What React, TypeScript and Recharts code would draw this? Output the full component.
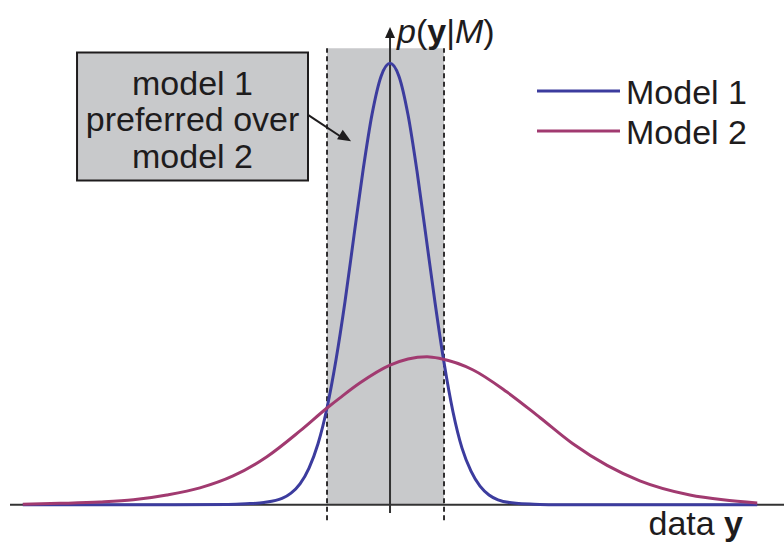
import React from 'react';
import { LineChart, Line, XAxis, YAxis, ReferenceArea, ReferenceLine, ReferenceDot, Legend } from 'recharts';

// ---- data ----
const seriesNames = ['Model 1', 'Model 2'];
const seriesColors = ['#3c3c9e', '#a13a70'];

const model1X = [-10.2, -6, -4.5, -4, -3.5, -3, -2.75, -2.5, -2.25, -2, -1.75, -1.5, -1.25, -1, -0.75, -0.5, -0.25, 0, 0.25, 0.5, 0.75, 1, 1.25, 1.5, 1.75, 2, 2.25, 2.5, 2.75, 3, 3.5, 4, 4.5, 6, 10.2];
const model1Y = [0, 0, 0.0005, 0.002, 0.005, 0.014, 0.026, 0.047, 0.083, 0.138, 0.219, 0.328, 0.46, 0.61, 0.757, 0.884, 0.97, 1, 0.97, 0.883, 0.755, 0.607, 0.458, 0.322, 0.21, 0.128, 0.076, 0.042, 0.022, 0.011, 0.003, 0.001, 0, 0, 0];

const model2X = [-10.2, -9.17, -8.06, -7.13, -6.2, -5.28, -4.36, -3.43, -2.5, -1.75, -1.39, -0.83, 0, 0.5, 1.03, 1.39, 2.31, 3.25, 4.17, 5.08, 6.03, 6.94, 8.33, 9.25, 10.2];
const model2Y = [0.001, 0.003, 0.006, 0.011, 0.022, 0.038, 0.065, 0.108, 0.167, 0.219, 0.242, 0.276, 0.316, 0.33, 0.335, 0.331, 0.305, 0.255, 0.197, 0.138, 0.089, 0.054, 0.022, 0.011, 0.004];

// preferred region (where model 1 lies above model 2)
const bandX = [-1.75, 1.5];
const bandTop = 1.034;

const boxLines = ['model 1', 'preferred over', 'model 2'];
const xAxisLabel = 'data ';
const xAxisLabelBold = 'y';

const model1Data = model1X.map((x, i) => ({ x, y: model1Y[i] }));
const model2Data = model2X.map((x, i) => ({ x, y: model2Y[i] }));

const FONT = '"Liberation Sans", Arial, Helvetica, sans-serif';
const INK = '#1e1c1d';
const AXIS = '#333333';

const upArrow = (p: any) => (
  <polygon points={`${p.cx},${p.cy} ${p.cx - 5},${p.cy + 11} ${p.cx + 5},${p.cy + 11}`} fill={INK} />
);

const calloutHead = (p: any) => {
  const a = Math.atan2(26, 43);
  const L = 13, W = 5.5;
  const c = Math.cos(a), s = Math.sin(a);
  const bx = p.cx - L * c, by = p.cy - L * s;
  const p1 = `${bx - W * s},${by + W * c}`;
  const p2 = `${bx + W * s},${by - W * c}`;
  return <polygon points={`${p.cx},${p.cy} ${p1} ${p2}`} fill={INK} />;
};

const yLabel = (p: any) => (
  <text x={p.cx + 7} y={p.cy} fontSize={34} fontFamily={FONT} fill={INK}>
    <tspan fontStyle="italic">p</tspan>
    <tspan>(</tspan>
    <tspan fontWeight="bold">y</tspan>
    <tspan>|</tspan>
    <tspan fontStyle="italic">M</tspan>
    <tspan>)</tspan>
  </text>
);

const xLabel = (p: any) => (
  <text x={p.cx} y={p.cy} fontSize={34} fontFamily={FONT} fill={INK} textAnchor="end">
    <tspan>{xAxisLabel}</tspan>
    <tspan fontWeight="bold">{xAxisLabelBold}</tspan>
  </text>
);

const boxLabel = (p: any) => {
  const vb = p.viewBox || {};
  const cx = vb.x + vb.width / 2;
  return (
    <g>
      {boxLines.map((t, i) => (
        <text key={t} x={cx} y={vb.y + 42 + i * 36.5} fontSize={34} fontFamily={FONT} fill={INK} textAnchor="middle">
          {t}
        </text>
      ))}
    </g>
  );
};

const legendContent = (props: any) => {
  const payload = props.payload || [];
  return (
    <svg width={250} height={90} style={{ display: 'block' }}>
      {payload.map((e: any, i: number) => (
        <g key={i}>
          <line x1={7} x2={90} y1={26 + i * 40} y2={26 + i * 40} stroke={e.color} strokeWidth={3} />
          <text x={96} y={26 + i * 40 + 13} fontSize={34} fontFamily={FONT} fill={INK}>
            {e.value}
          </text>
        </g>
      ))}
    </svg>
  );
};

export default function App() {
  return (
    <div style={{ position: 'absolute', left: 0, top: 0, width: 784, height: 543, background: '#fff' }}>
      <LineChart width={784} height={543} margin={{ top: 19, right: 0, bottom: 3, left: 10 }}>
        <XAxis type="number" dataKey="x" domain={[-10.556, 10.944]} hide allowDataOverflow />
        <YAxis type="number" dataKey="y" domain={[-0.08, 1.1]} hide allowDataOverflow />
        <ReferenceArea x1={bandX[0]} x2={bandX[1]} y1={0} y2={bandTop} fill="#c8c9cb" fillOpacity={1} stroke="none" />
        <ReferenceLine segment={[{ x: bandX[0], y: -0.035 }, { x: bandX[0], y: bandTop }]} stroke={INK} strokeWidth={1.8} strokeDasharray="5 3.5" />
        <ReferenceLine segment={[{ x: bandX[1], y: -0.035 }, { x: bandX[1], y: bandTop }]} stroke={INK} strokeWidth={1.8} strokeDasharray="5 3.5" />
        <ReferenceLine y={0} stroke={AXIS} strokeWidth={2} />
        <ReferenceLine segment={[{ x: 0, y: -0.019 }, { x: 0, y: 1.06 }]} stroke={AXIS} strokeWidth={2} />
        <ReferenceDot x={0} y={1.082} r={0} shape={upArrow} />
        <ReferenceDot x={0} y={1.046} r={0} shape={yLabel} />
        <ReferenceDot x={9.806} y={-0.069} r={0} shape={xLabel} />
        <ReferenceArea x1={-8.694} x2={-2.278} y1={0.734} y2={1.024} fill="#c8c9cb" fillOpacity={1} stroke={INK} strokeWidth={2} label={{ content: boxLabel }} />
        <ReferenceLine segment={[{ x: -2.278, y: 0.883 }, { x: -1.3, y: 0.83 }]} stroke={INK} strokeWidth={2} />
        <ReferenceDot x={-1.083} y={0.823} r={0} shape={calloutHead} />
        <Line data={model1Data} dataKey="y" name={seriesNames[0]} type="monotone" stroke={seriesColors[0]} strokeWidth={3} dot={false} isAnimationActive={false} />
        <Line data={model2Data} dataKey="y" name={seriesNames[1]} type="monotone" stroke={seriesColors[1]} strokeWidth={3} dot={false} isAnimationActive={false} />
        <Legend layout="horizontal" verticalAlign="middle" align="center" content={legendContent} wrapperStyle={{ left: 530, top: 65, width: 250, height: 90 }} />
      </LineChart>
    </div>
  );
}
